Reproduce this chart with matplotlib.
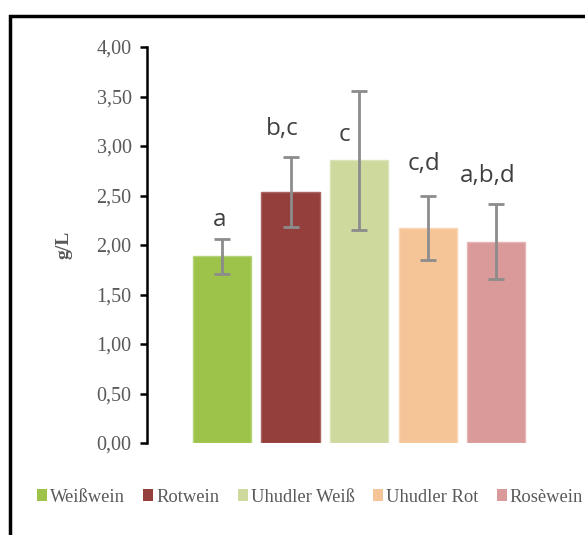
"""Glycerin-/Säuregehalt je Weinsorte (g/L) mit Signifikanzbuchstaben."""
import matplotlib
matplotlib.use("Agg")
import matplotlib.pyplot as plt
from matplotlib.patches import Patch, Rectangle

sorten = ["Weißwein", "Rotwein", "Uhudler Weiß", "Uhudler Rot", "Rosèwein"]
mittel = [1.885, 2.535, 2.855, 2.17, 2.035]
sd = [0.175, 0.355, 0.705, 0.32, 0.375]
buchstaben = ["a", "b,c", "c", "c,d", "a,b,d"]
# Höhe (g/L) und Verschiebung (Balkenbreiten) der Buchstaben
buchst_y = [2.19, 3.11, 3.05, 2.76, 2.64]
buchst_dx = [-0.03, -0.12, -0.22, -0.06, -0.13]
yticks = [0.0, 0.5, 1.0, 1.5, 2.0, 2.5, 3.0, 3.5, 4.0]

farben = ["#9DC34B", "#953F3C", "#CED99E", "#F5C598", "#D99A99"]
kanten = ["#B5D47A", "#A86663", "#DCE4BA", "#F8D6B6", "#E4B5B4"]
GRAU = "#595959"
SERIF = "Liberation Serif"

fig = plt.figure(figsize=(5.85, 5.35), dpi=100)
# dicker Rahmen links/oben (rechts und unten abgeschnitten)
fig.patches.append(Rectangle((10 / 585, -0.05), 1.2, 1 - 16 / 535 + 0.05,
                             transform=fig.transFigure, fill=False,
                             edgecolor="black", linewidth=2.5))

ax = fig.add_axes([147 / 585, 1 - 443 / 535, (575 - 147) / 585, 396 / 535])
x = list(range(len(sorten)))
ax.bar(x, mittel, width=0.85, color=farben, edgecolor=kanten, linewidth=1.0, zorder=2)
ax.errorbar(x, mittel, yerr=sd, fmt="none", ecolor="#8C8C8C", elinewidth=2,
            capsize=5.5, capthick=2, zorder=3)

for xi, t, yy, dx in zip(x, buchstaben, buchst_y, buchst_dx):
    ax.text(xi + dx, yy, t, ha="center", va="baseline", fontsize=17.5,
            color="#404040", family=["Open Sans", "DejaVu Sans"])

ax.set_xlim(-1.095, 5.15)
ax.set_ylim(0, 4)
ax.set_yticks(yticks)
ax.set_yticklabels([f"{v:.2f}".replace(".", ",") for v in yticks],
                   family=SERIF, fontsize=14.5, color=GRAU)
ax.tick_params(axis="y", direction="out", length=5, width=1.8, color="black", pad=6)
ax.set_xticks([])
for s in ["top", "right", "bottom"]:
    ax.spines[s].set_visible(False)
ax.spines["left"].set_linewidth(1.8)
ax.set_ylabel("g/L", family=SERIF, fontsize=14, fontweight="bold", color=GRAU)
ax.yaxis.set_label_coords(-0.175, 0.5)

handles = [Patch(facecolor=c, edgecolor="none") for c in farben]
fig.legend(handles, sorten, loc="center", bbox_to_anchor=(310 / 585, 1 - 497 / 535),
           ncol=5, frameon=False, handlelength=0.55, handleheight=0.55,
           handletextpad=0.15, columnspacing=1.0,
           prop={"family": SERIF, "size": 13.3}, labelcolor=GRAU)

fig.savefig("out.png", dpi=100)
